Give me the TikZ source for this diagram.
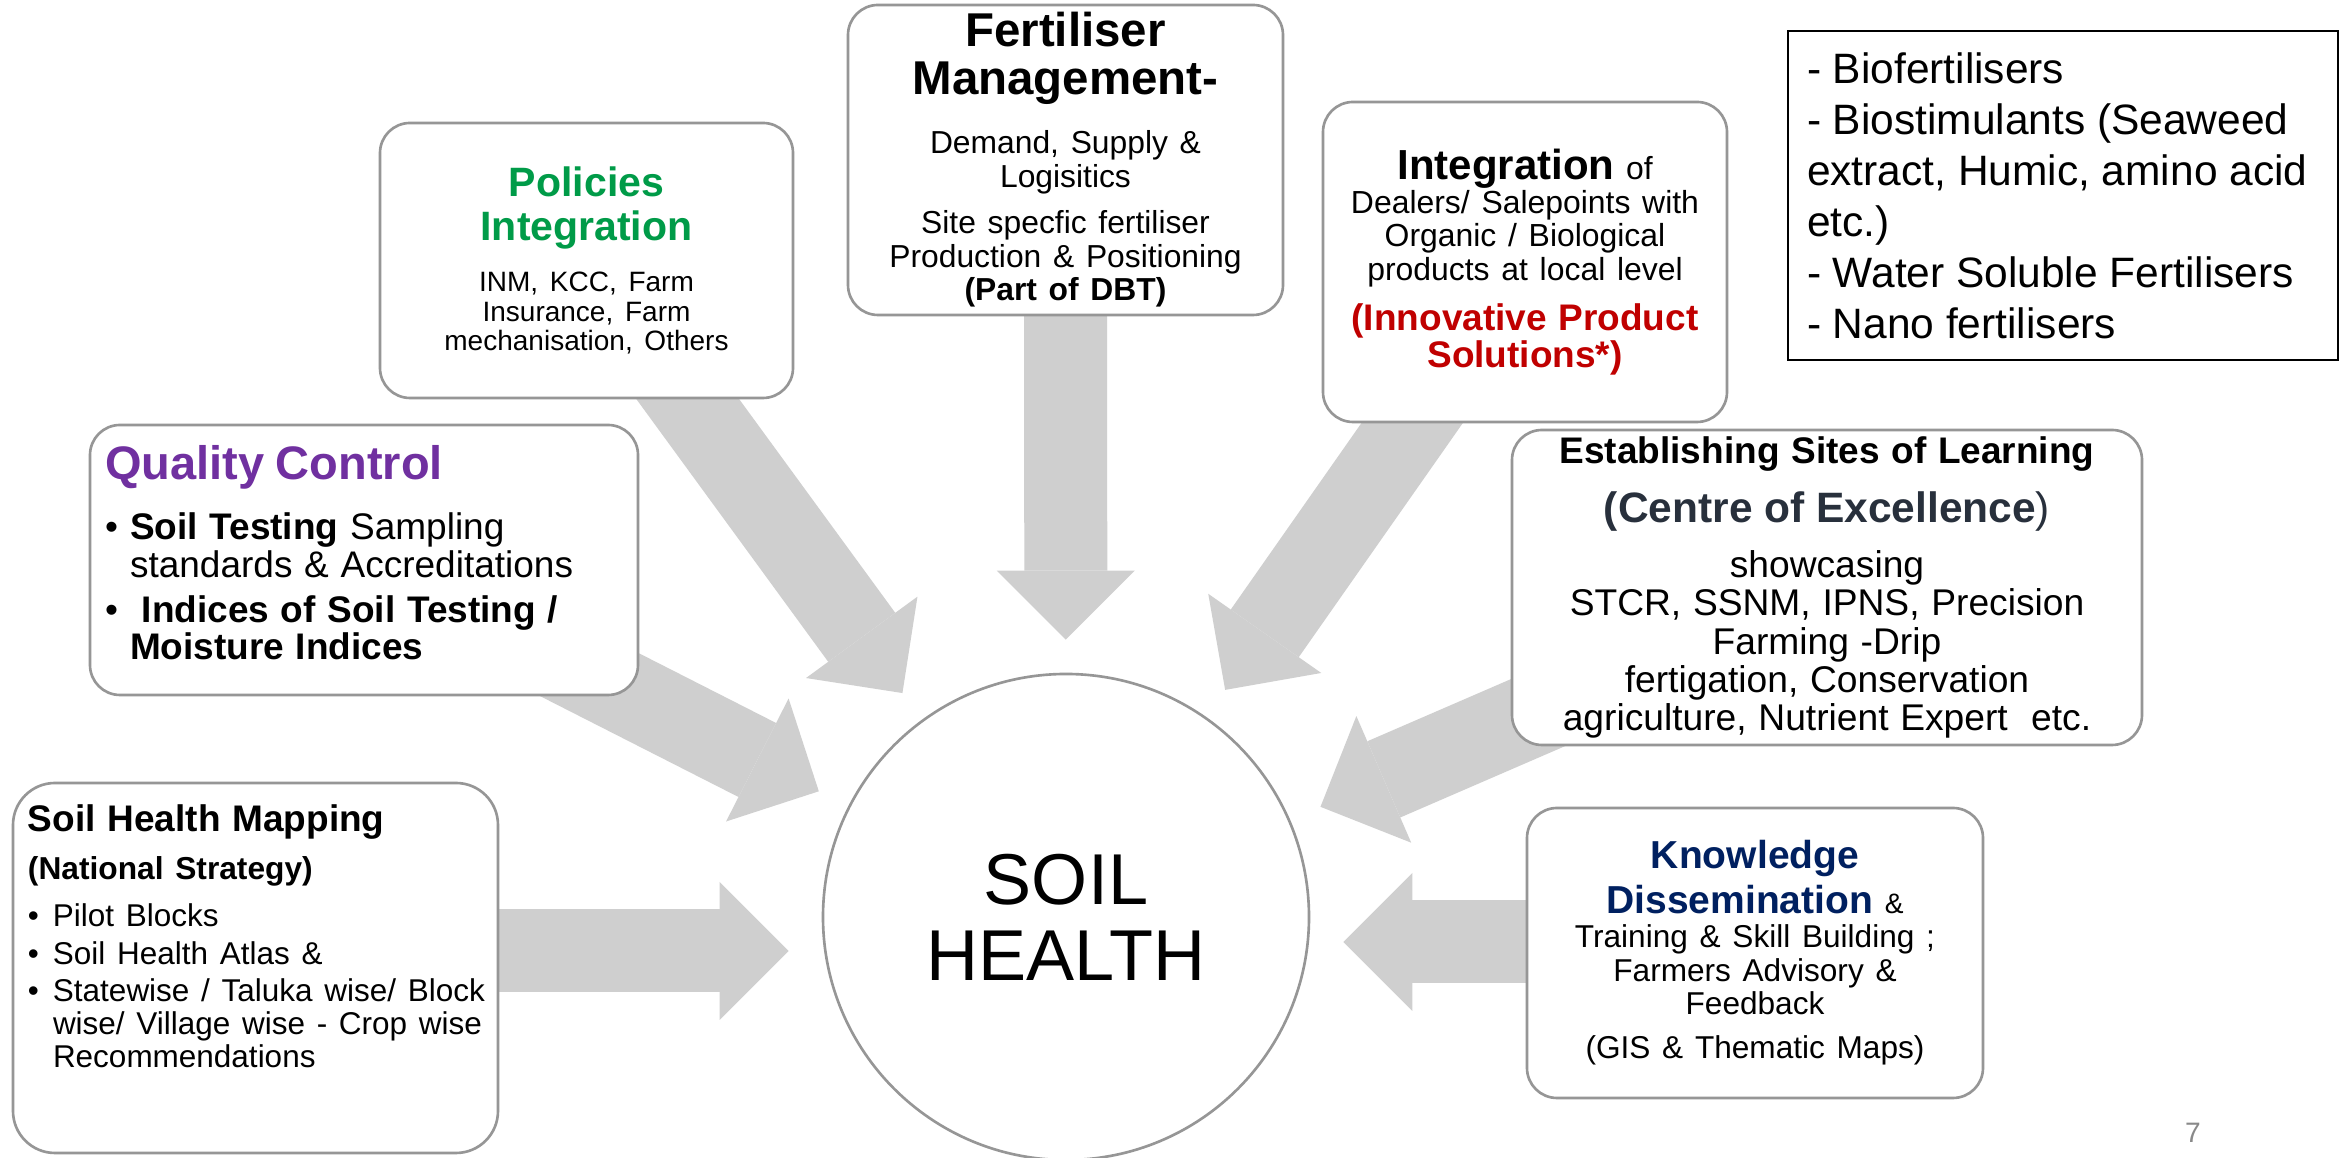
\documentclass[tikz,border=0pt]{standalone}
\usepackage{fontspec}
\setmainfont{Liberation Sans}
\usepackage{tikz}
\usetikzlibrary{arrows.meta, backgrounds}
\definecolor{policyGreen}{RGB}{0,155,72}
\definecolor{qualityPurple}{RGB}{112,48,160}
\definecolor{solutionRed}{RGB}{192,0,0}
\definecolor{knowNavy}{RGB}{0,32,96}
\definecolor{centreSlate}{RGB}{40,48,60}
\definecolor{cardGrey}{RGB}{150,150,150}
\definecolor{flowGrey}{RGB}{207,207,207}
\definecolor{pageGrey}{RGB}{137,137,137}
\newcommand{\fsz}[2]{\fontsize{#1}{#2}\selectfont}
\newcommand{\dotitem}{\hangindent=0.25cm\hangafter=1\noindent\makebox[0.25cm][l]{\textbullet}}

\begin{document}
\begin{tikzpicture}[
      card/.style={draw=cardGrey, line width=0.75pt, fill=white, rounded corners=0.3cm,
      inner xsep=0.15cm, inner ysep=0pt, align=center},
      listbox/.style={draw=black, line width=0.6pt, fill=white, inner xsep=0.19cm, inner ysep=0pt, align=left},
      hub/.style={circle, draw=cardGrey, line width=0.75pt, fill=white, minimum size=4.86cm,
      inner sep=0pt, align=center, font=\fsz{20.5}{21.6}},
      flow/.style={draw=flowGrey, line width=0.83cm, shorten >=0.33cm,
      -{Triangle[length=0.69cm, width=1.38cm, line width=0pt]}},
      pagenum/.style={font=\fsz{8}{9.6}, text=pageGrey, anchor=base}
    ]
    \useasboundingbox (0,0) rectangle (23.43,11.58);

    % centre
    \node[hub] (soil) at (10.66,2.41) {SOIL\\HEALTH};

    % top row
    \node[card, minimum width=4.13cm, minimum height=2.75cm, text width=3.8cm] (policy) at (5.865,8.975) {%
      {\fsz{11.67}{12.52}\bfseries\color{policyGreen}Policies\\Integration\par}
      \vspace{0.215cm}
      {\fsz{7.97}{8.39}INM, KCC, Farm\\Insurance, Farm\\mechanisation, Others\par}};
    \node[card, minimum width=4.35cm, minimum height=3.10cm, text width=4.0cm] (fert) at (10.655,9.98) {%
      {\fsz{13.5}{13.66}\bfseries Fertiliser\\Management-\par}
      \vspace{0.255cm}
      {\fsz{9.05}{9.53}Demand, Supply \&\\Logisitics\\[0.13cm]Site specfic fertiliser\\Production \& Positioning\\\textbf{(Part of DBT)}\par}};
    \node[card, minimum width=4.04cm, minimum height=3.20cm, text width=3.7cm] (integ) at (15.25,8.96) {%
      {\fsz{9.08}{9.53}{\fsz{11.95}{9.53}\bfseries Integration} of\\Dealers/ Salepoints with\\Organic / Biological\\products at local level\par}
      \vspace{0.13cm}
      {\fsz{10.53}{10.53}\bfseries\color{solutionRed}(Innovative Product\\Solutions*)\par}};
    \node[listbox, minimum width=5.50cm, minimum height=3.29cm, text width=5.12cm] (products) at (20.63,9.625) {%
      {\fsz{12.09}{14.51}- Biofertilisers\\- Biostimulants (Seaweed\\extract, Humic, amino acid\\etc.)\\- Water Soluble Fertilisers\\- Nano fertilisers\par}};

    % middle row
    \node[card, align=left, minimum width=5.48cm, minimum height=2.70cm, text width=5.18cm] (quality) at (3.64,5.98) {%
      {\fsz{13.37}{13.37}\bfseries\color{qualityPurple}Quality Control\par}
      \vspace{0.225cm}
      {\fsz{10.53}{10.67}\dotitem\textbf{Soil Testing} Sampling\newline standards \& Accreditations\par}
      \vspace{0.075cm}
      {\fsz{10.53}{10.67}\dotitem\ \textbf{Indices of Soil Testing /\newline Moisture Indices}\par}
      \nointerlineskip\noindent\rule{0pt}{0.14cm}\par};
    \node[card, minimum width=6.30cm, minimum height=3.15cm, text width=6.0cm] (sites) at (18.27,5.705) {%
      {\fsz{10.53}{10.53}\bfseries Establishing Sites of Learning\par}
      {\fsz{12.09}{16.79}\bfseries\color{centreSlate}(Centre of Excellence{\mdseries)}\par}
      \vspace{0.17cm}
      {\fsz{10.58}{10.88}showcasing\\STCR, SSNM, IPNS, Precision\\Farming -Drip\\fertigation, Conservation\\agriculture, Nutrient Expert\ \ etc.\par}};

    % bottom row
    \node[card, align=left, rounded corners=0.42cm, minimum width=4.85cm, minimum height=3.70cm, text width=4.55cm] (mapping) at (2.555,1.90) {%
      {\fsz{10.53}{10.53}\bfseries Soil Health Mapping\par}
      {\fsz{9.02}{13.66}\bfseries (National Strategy)\par}
      \vspace{0.145cm}
      {\fsz{8.96}{9.25}\dotitem Pilot Blocks\par}
      \vspace{0.05cm}
      {\fsz{8.96}{9.25}\dotitem Soil Health Atlas \&\par}
      \vspace{0.05cm}
      {\fsz{8.96}{9.25}\dotitem\mbox{Statewise / Taluka wise/ Block}\newline wise/ Village wise - Crop wise\newline Recommendations\par}
      \rule{0pt}{0.6cm}\par};
    \node[card, minimum width=4.56cm, minimum height=2.90cm, text width=4.2cm] (knowledge) at (17.55,2.05) {%
      {\fsz{11.1}{12.8}{\bfseries\color{knowNavy}Knowledge\\Dissemination} {\fsz{8}{12.8}\&}\par}
      {\fsz{8.99}{9.6}Training \& Skill Building ;\\Farmers Advisory \&\\Feedback\par}
      {\fsz{8.99}{12.52}(GIS \& Thematic Maps)\par}};

    \node[pagenum] (pageno) at (21.93,0.15) {7};

    % block arrows behind the cards
    \begin{scope}[on background layer]
      \fill[white] (0,0) rectangle (23.43,11.58);
      \foreach \src in {policy,fert,integ,quality,sites} {
        \draw[flow] (\src.center) -- (soil);
      }
      \draw[flow] (mapping.center |- 0,2.07) -- (soil.west |- 0,2.07);
      \draw[flow] (knowledge.center |- 0,2.16) -- (soil.east |- 0,2.16);
    \end{scope}
  \end{tikzpicture}
\end{document}
